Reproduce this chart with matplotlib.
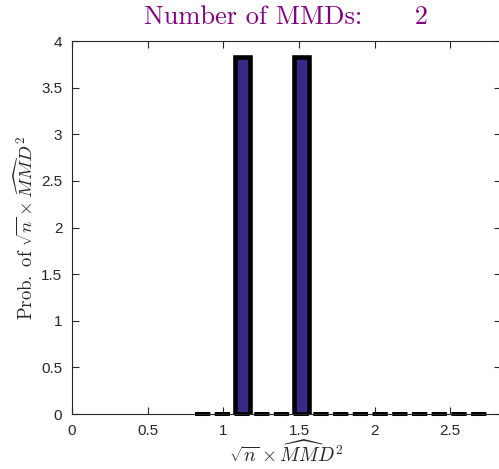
import matplotlib
matplotlib.use("Agg")
import matplotlib.pyplot as plt

# data
bar_centers = [1.126, 1.518]
bar_heights = [3.83, 3.83]
bar_width = 0.102
null_x = [0.81, 2.745]
null_y = [0.0, 0.0]
xticks = [0, 0.5, 1, 1.5, 2, 2.5]
xticklabels = ["0", "0.5", "1", "1.5", "2", "2.5"]
yticks = [0, 0.5, 1, 1.5, 2, 2.5, 3, 3.5, 4]
yticklabels = ["0", "0.5", "1", "1.5", "2", "2.5", "3", "3.5", "4"]
n_mmds = 2

plt.rcParams['mathtext.fontset'] = 'cm'
plt.rcParams['font.family'] = ['Liberation Sans', 'DejaVu Sans']
plt.rcParams['lines.scale_dashes'] = False

W, H = 499, 469
fig = plt.figure(figsize=(W / 100, H / 100), dpi=100)
left_px, right_px, top_px, bot_px = 72, 500.5, 41, 414
ax = fig.add_axes([left_px / W, 1 - bot_px / H, (right_px - left_px) / W, (bot_px - top_px) / H])

axc = (0.15, 0.15, 0.15)
ax.plot(null_x, null_y, color='black', linewidth=2.9, dashes=(11, 3.2),
        solid_capstyle='butt', dash_capstyle='butt', zorder=2, clip_on=False)
ax.bar(bar_centers, bar_heights, width=bar_width, facecolor='#352a87',
       edgecolor='black', linewidth=3.3, zorder=3)

ax.set_xlim(0, (right_px - left_px) / 151.3)
ax.set_ylim(0, 4)
ax.set_xticks(xticks)
ax.set_xticklabels(xticklabels)
ax.set_yticks(yticks)
ax.set_yticklabels(yticklabels)
ax.tick_params(direction='in', length=5, width=0.8, colors=axc, labelsize=11,
               top=True, right=True)
ax.tick_params(axis='x', pad=7)
ax.tick_params(axis='y', pad=7)
for s in ax.spines.values():
    s.set_color(axc)
    s.set_linewidth(0.8)

ax.set_title("Number of MMDs:      %d" % n_mmds, family='cmr10',
             color=(0.5, 0.0, 0.5), fontsize=19, pad=12)
ax.set_ylabel(r"$\mathrm{Prob.\ of}\ \sqrt{n}\times\widehat{MM}D^2$", fontsize=13.5,
              color=axc, labelpad=3)
ax.set_xlabel(r"$\sqrt{n}\times\widehat{MM}D^2$", fontsize=14, color=axc, labelpad=2)

fig.savefig("out.png", dpi=100)
